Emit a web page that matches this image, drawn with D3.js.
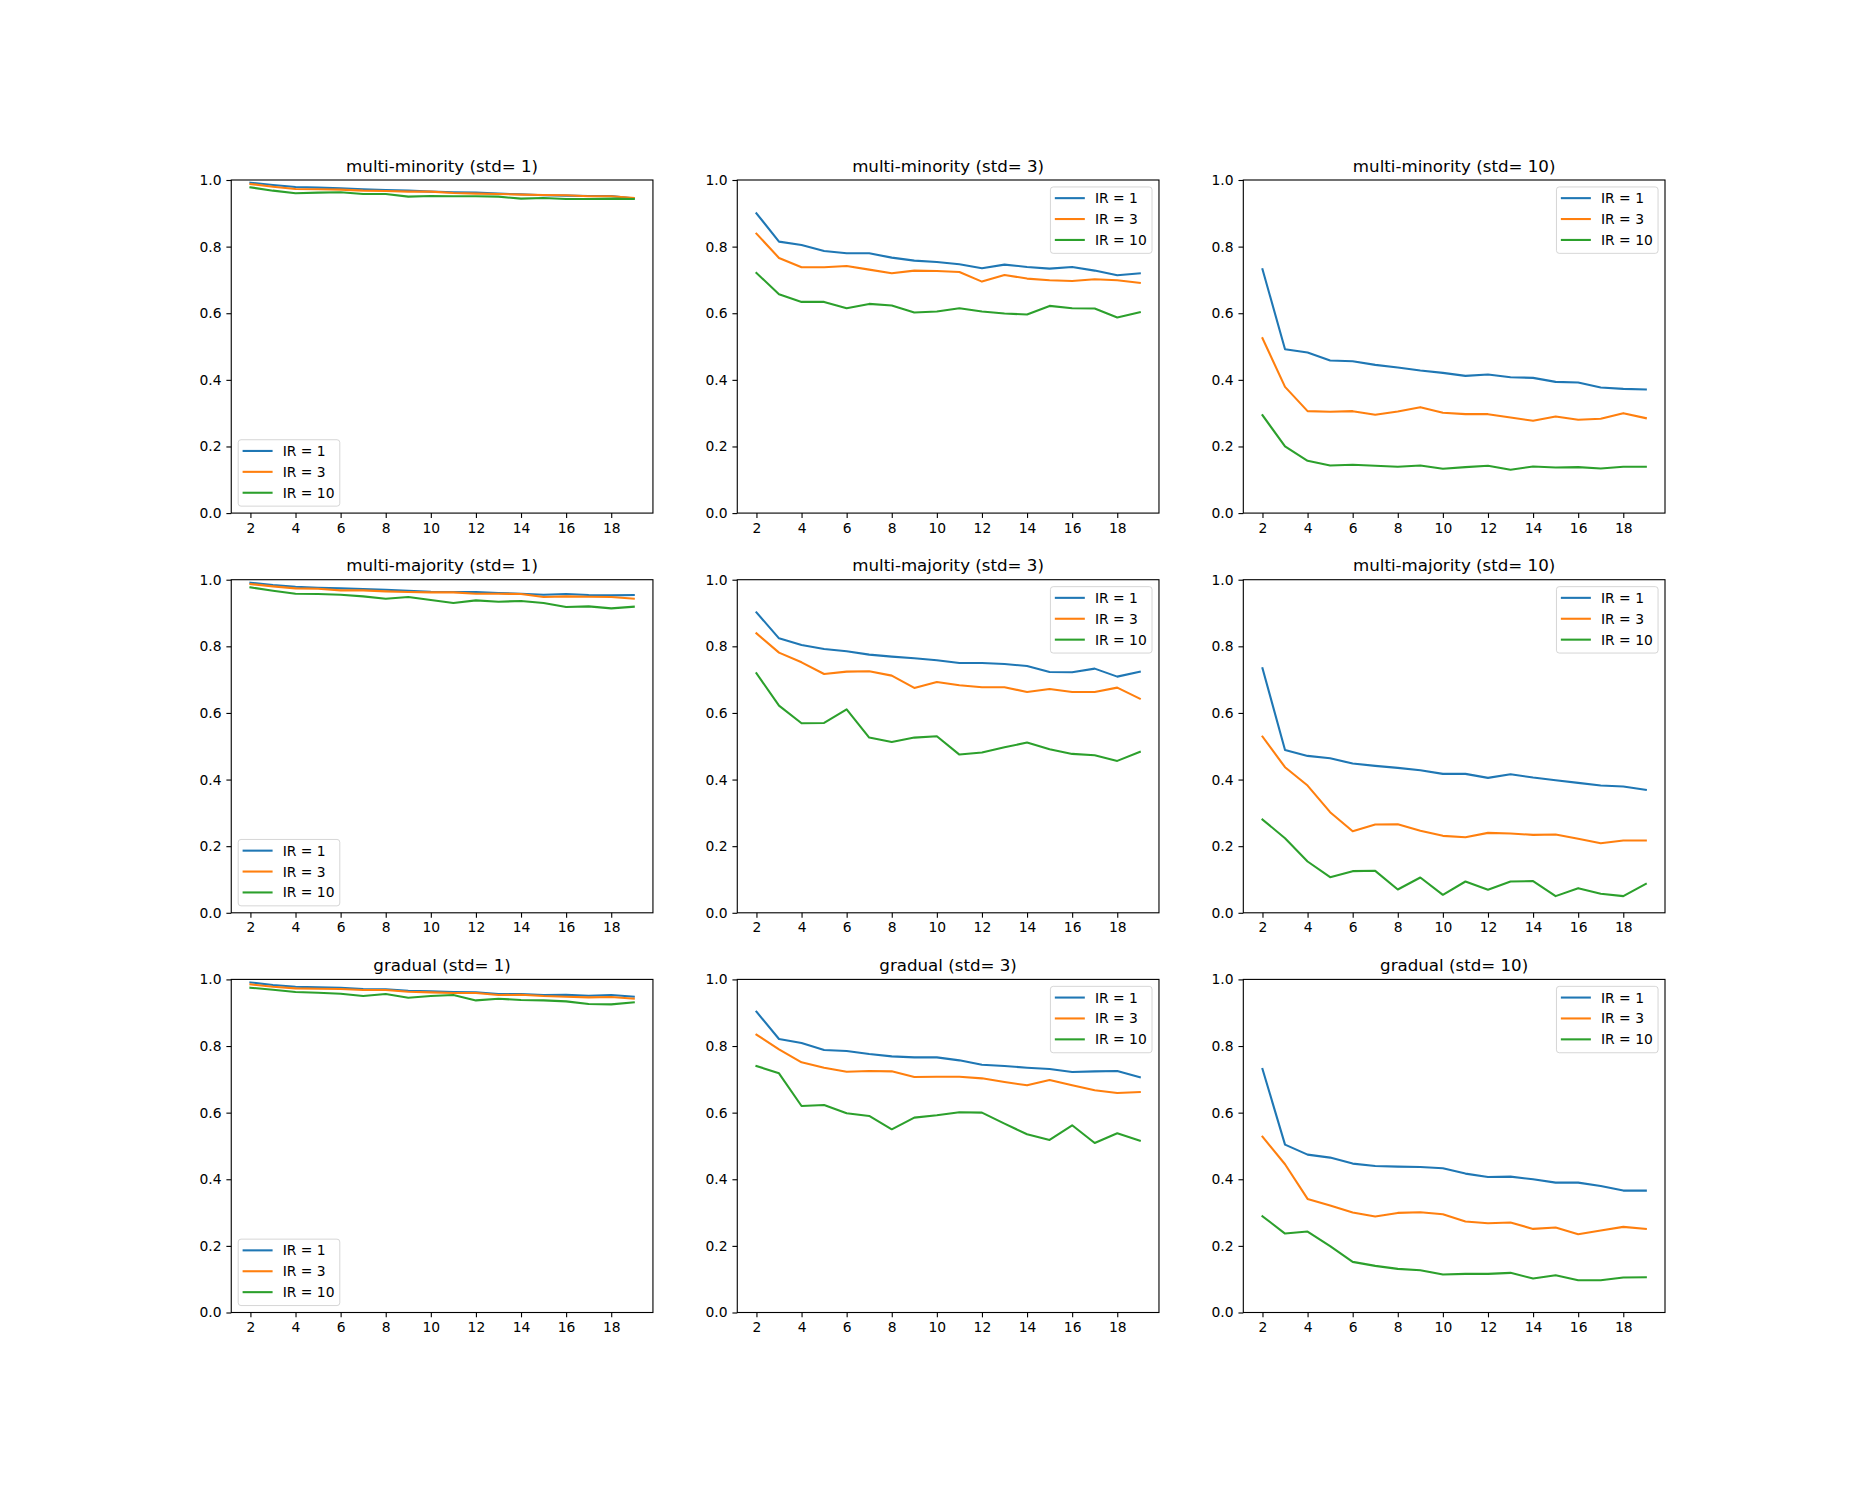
<!DOCTYPE html>
<html>
<head>
<meta charset="utf-8">
<script src="https://cdn.jsdelivr.net/npm/d3@7"></script>
<style>
  html, body { margin: 0; padding: 0; background: #fff; }
  svg { display: block; }
  text { font-family: "DejaVu Sans", sans-serif; fill: #000; }
</style>
</head>
<body>
<div id="chart"></div>
<script>
// ---------------- data ----------------
const xValues = [2,3,4,5,6,7,8,9,10,11,12,13,14,15,16,17,18,19];
const xTickValues = [2,4,6,8,10,12,14,16,18];
const yTickValues = [0.0,0.2,0.4,0.6,0.8,1.0];
const seriesLabels = ["IR = 1","IR = 3","IR = 10"];
const seriesColors = ["#1f77b4","#ff7f0e","#2ca02c"];
const panelTitles = [
  "multi-minority (std= 1)","multi-minority (std= 3)","multi-minority (std= 10)",
  "multi-majority (std= 1)","multi-majority (std= 3)","multi-majority (std= 10)",
  "gradual (std= 1)","gradual (std= 3)","gradual (std= 10)"
];

// multi-minority
const minStd1_ir1 = [0.992,0.985,0.979,0.977,0.975,0.972,0.970,0.968,0.965,0.963,0.962,0.959,0.957,0.954,0.953,0.952,0.952,0.945];
const minStd1_ir3 = [0.988,0.980,0.973,0.972,0.971,0.968,0.967,0.965,0.965,0.961,0.959,0.958,0.956,0.955,0.954,0.951,0.951,0.946];
const minStd1_ir10 = [0.978,0.968,0.960,0.962,0.963,0.958,0.958,0.950,0.952,0.951,0.951,0.950,0.944,0.946,0.943,0.943,0.944,0.943];
const minStd3_ir1 = [0.900,0.815,0.805,0.787,0.780,0.780,0.767,0.758,0.754,0.747,0.735,0.746,0.739,0.734,0.739,0.728,0.714,0.720];
const minStd3_ir3 = [0.839,0.766,0.738,0.738,0.742,0.731,0.720,0.728,0.727,0.724,0.695,0.715,0.704,0.699,0.697,0.702,0.699,0.691];
const minStd3_ir10 = [0.721,0.657,0.634,0.634,0.615,0.628,0.623,0.602,0.605,0.615,0.605,0.599,0.596,0.622,0.615,0.614,0.587,0.603];
const minStd10_ir1 = [0.732,0.492,0.482,0.458,0.456,0.445,0.437,0.428,0.421,0.412,0.416,0.408,0.406,0.394,0.392,0.377,0.373,0.371];
const minStd10_ir3 = [0.525,0.379,0.306,0.304,0.306,0.295,0.305,0.318,0.301,0.297,0.297,0.287,0.277,0.290,0.280,0.283,0.300,0.285];
const minStd10_ir10 = [0.294,0.200,0.157,0.143,0.145,0.142,0.139,0.143,0.133,0.138,0.142,0.130,0.140,0.137,0.138,0.134,0.139,0.139];

// multi-majority
const majStd1_ir1 = [0.991,0.984,0.979,0.976,0.974,0.972,0.970,0.967,0.964,0.963,0.963,0.960,0.958,0.955,0.957,0.954,0.953,0.954];
const majStd1_ir3 = [0.987,0.980,0.974,0.973,0.968,0.968,0.965,0.963,0.962,0.962,0.958,0.958,0.957,0.948,0.950,0.949,0.948,0.943];
const majStd1_ir10 = [0.977,0.967,0.958,0.957,0.955,0.950,0.943,0.948,0.939,0.930,0.938,0.934,0.936,0.930,0.918,0.920,0.914,0.919];
const majStd3_ir1 = [0.902,0.824,0.804,0.792,0.785,0.775,0.769,0.764,0.758,0.750,0.750,0.747,0.741,0.723,0.722,0.733,0.709,0.724];
const majStd3_ir3 = [0.839,0.781,0.752,0.717,0.724,0.725,0.712,0.675,0.693,0.683,0.677,0.677,0.663,0.672,0.663,0.663,0.676,0.643];
const majStd3_ir10 = [0.719,0.622,0.569,0.570,0.611,0.526,0.513,0.526,0.530,0.475,0.481,0.497,0.511,0.491,0.477,0.473,0.456,0.483];
const majStd10_ir1 = [0.734,0.489,0.471,0.464,0.448,0.441,0.435,0.428,0.417,0.417,0.405,0.416,0.406,0.398,0.390,0.382,0.379,0.369];
const majStd10_ir3 = [0.529,0.437,0.382,0.302,0.245,0.265,0.266,0.246,0.231,0.227,0.240,0.238,0.234,0.235,0.222,0.209,0.217,0.217];
const majStd10_ir10 = [0.280,0.224,0.154,0.107,0.125,0.126,0.070,0.106,0.054,0.094,0.069,0.094,0.095,0.050,0.074,0.057,0.050,0.087];

// gradual
const gradStd1_ir1 = [0.991,0.983,0.978,0.976,0.975,0.971,0.970,0.966,0.964,0.962,0.961,0.956,0.956,0.953,0.954,0.951,0.953,0.948];
const gradStd1_ir3 = [0.985,0.978,0.973,0.972,0.971,0.968,0.968,0.963,0.961,0.959,0.959,0.953,0.954,0.950,0.948,0.946,0.947,0.942];
const gradStd1_ir10 = [0.975,0.969,0.962,0.960,0.957,0.950,0.956,0.945,0.950,0.953,0.937,0.942,0.938,0.937,0.934,0.926,0.925,0.931];
const gradStd3_ir1 = [0.903,0.821,0.809,0.788,0.785,0.776,0.769,0.766,0.766,0.757,0.744,0.740,0.735,0.731,0.722,0.724,0.725,0.706];
const gradStd3_ir3 = [0.834,0.790,0.751,0.735,0.723,0.725,0.724,0.707,0.708,0.708,0.703,0.692,0.682,0.698,0.682,0.667,0.659,0.662];
const gradStd3_ir10 = [0.740,0.718,0.620,0.623,0.598,0.590,0.550,0.585,0.592,0.601,0.600,0.567,0.535,0.518,0.562,0.509,0.538,0.516];
const gradStd10_ir1 = [0.731,0.504,0.474,0.465,0.447,0.440,0.438,0.437,0.433,0.417,0.407,0.408,0.400,0.390,0.390,0.380,0.366,0.366];
const gradStd10_ir3 = [0.528,0.445,0.341,0.321,0.300,0.288,0.299,0.301,0.295,0.273,0.268,0.270,0.251,0.255,0.235,0.246,0.257,0.251];
const gradStd10_ir10 = [0.289,0.237,0.243,0.199,0.152,0.140,0.131,0.127,0.114,0.116,0.116,0.119,0.102,0.112,0.097,0.097,0.105,0.106];

const panelSeries = [
  [minStd1_ir1, minStd1_ir3, minStd1_ir10],
  [minStd3_ir1, minStd3_ir3, minStd3_ir10],
  [minStd10_ir1, minStd10_ir3, minStd10_ir10],
  [majStd1_ir1, majStd1_ir3, majStd1_ir10],
  [majStd3_ir1, majStd3_ir3, majStd3_ir10],
  [majStd10_ir1, majStd10_ir3, majStd10_ir10],
  [gradStd1_ir1, gradStd1_ir3, gradStd1_ir10],
  [gradStd3_ir1, gradStd3_ir3, gradStd3_ir10],
  [gradStd10_ir1, gradStd10_ir3, gradStd10_ir10]
];

// ---------------- layout ----------------
const W = 1850, H = 1500;
const figL = 0.125 * W, figR = 0.9 * W, figT = 0.12 * H, figB = 0.875 * H;
const pw = (figR - figL) / (3 + 2 * 0.2), gapW = 0.2 * pw;
const ph = (figB - figT) / (3 + 2 * 0.2), gapH = 0.2 * ph;
const pt = 100 / 72;
const tickFont = 10 * pt, titleFont = 12 * pt;

const svg = d3.select("#chart").append("svg")
  .attr("width", W).attr("height", H)
  .attr("viewBox", `0 0 ${W} ${H}`);
svg.append("rect").attr("width", W).attr("height", H).attr("fill", "#fff");

const x = d3.scaleLinear().domain([1.15, 19.85]).range([0, pw]);
const y = d3.scaleLinear().domain([0, 1]).range([ph, 0]);

panelSeries.forEach((series, i) => {
  const r = Math.floor(i / 3), c = i % 3;
  const x0 = figL + c * (pw + gapW);
  const y0 = figT + r * (ph + gapH);
  const g = svg.append("g").attr("transform", `translate(${x0},${y0})`);

  // lines
  const line = d3.line().x((d, k) => x(xValues[k])).y(d => y(d));
  series.forEach((vals, s) => {
    g.append("path").datum(vals)
      .attr("d", line)
      .attr("fill", "none")
      .attr("stroke", seriesColors[s])
      .attr("stroke-width", 1.5 * pt)
      .attr("stroke-linejoin", "round")
      .attr("stroke-linecap", "square");
  });

  // axes
  const xa = g.append("g").attr("transform", `translate(0,${ph})`)
    .call(d3.axisBottom(x).tickValues(xTickValues).tickFormat(d3.format("d"))
      .tickSize(3.5 * pt).tickPadding(3.5 * pt));
  const ya = g.append("g")
    .call(d3.axisLeft(y).tickValues(yTickValues).tickFormat(d3.format(".1f"))
      .tickSize(3.5 * pt).tickPadding(3.5 * pt));
  [xa, ya].forEach(a => {
    a.select(".domain").remove();
    a.attr("font-family", null).attr("font-size", null);
    a.selectAll("line").attr("stroke", "#000").attr("stroke-width", 0.8 * pt);
    a.selectAll("text").style("font-size", tickFont + "px")
      .style("font-family", "'DejaVu Sans', sans-serif").attr("fill", "#000");
  });

  // spines
  g.append("rect").attr("x", 0).attr("y", 0).attr("width", pw).attr("height", ph)
    .attr("fill", "none").attr("stroke", "#000").attr("stroke-width", 0.8 * pt);

  // title
  g.append("text").attr("x", pw / 2).attr("y", -6 * pt)
    .attr("text-anchor", "middle")
    .style("font-size", titleFont + "px")
    .text(panelTitles[i]);

  // legend
  const lw = 101.6, lh = 66.4, pad = 0.5 * tickFont;
  const lx = c === 0 ? pad : pw - pad - lw;
  const ly = c === 0 ? ph - pad - lh : pad;
  const lg = g.append("g").attr("transform", `translate(${lx},${ly})`);
  lg.append("rect").attr("width", lw).attr("height", lh).attr("rx", 2.8).attr("ry", 2.8)
    .attr("fill", "#fff").attr("fill-opacity", 0.8)
    .attr("stroke", "#cccccc").attr("stroke-opacity", 0.8).attr("stroke-width", 1);
  seriesLabels.forEach((lab, s) => {
    const cy = 11.2 + s * 20.9;
    lg.append("line").attr("x1", 4.4).attr("x2", 34.4).attr("y1", cy).attr("y2", cy)
      .attr("stroke", seriesColors[s]).attr("stroke-width", 1.5 * pt);
    lg.append("text").attr("x", 44.5).attr("y", cy + 5)
      .style("font-size", tickFont + "px").text(lab);
  });
});
</script>
</body>
</html>
